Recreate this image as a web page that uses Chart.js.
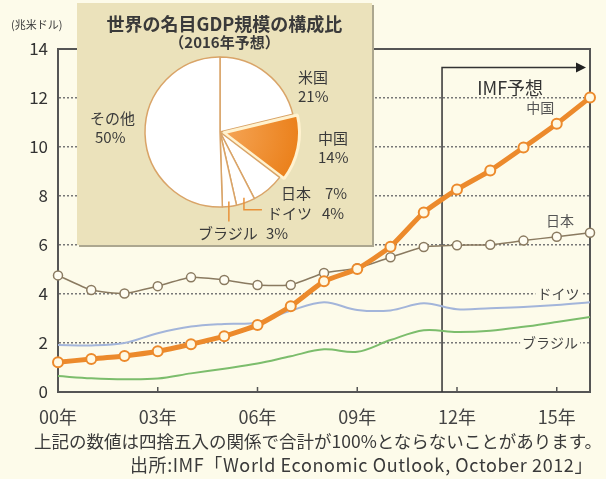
<!DOCTYPE html>
<html>
<head>
<meta charset="utf-8">
<script src="https://cdn.jsdelivr.net/npm/chart.js@4.4.0/dist/chart.umd.min.js"></script>
<style>
  body { margin: 0; background: #fdfbea; }
  #wrap { position: relative; width: 606px; height: 479px; overflow: hidden;
          font-family: "Noto Sans CJK JP", sans-serif; color: #3a3a3a; }
  #lineChart { position: absolute; left: 0; top: 0; }
  #box { position: absolute; left: 77px; top: 3px; width: 295px; height: 242px;
         background: #ebe2bb; box-shadow: 2px 2px 0 #aca78f; }
  #pieChart { position: absolute; left: 110px; top: 22px; }
  .t { position: absolute; white-space: nowrap; line-height: 1; }
</style>
</head>
<body>
<div id="wrap">
  <canvas id="lineChart" width="606" height="479"></canvas>
  <div id="box"></div>
  <canvas id="pieChart" width="220" height="220"></canvas>

  <div class="t" style="left:11px;top:19px;font-size:11px;">(兆米ドル)</div>

  <div class="t" style="left:77px;width:295px;text-align:center;top:14px;font-size:18px;font-weight:bold;">世界の名目GDP規模の構成比</div>
  <div class="t" style="left:77px;width:295px;text-align:center;top:34px;font-size:15px;font-weight:bold;">（2016年予想）</div>

  <div class="t" style="left:298px;top:69px;font-size:15px;">米国</div>
  <div class="t" style="left:298px;top:88px;font-size:15px;">21%</div>
  <div class="t" style="left:318px;top:130px;font-size:15px;">中国</div>
  <div class="t" style="left:318px;top:149px;font-size:15px;">14%</div>
  <div class="t" style="left:281px;top:185px;font-size:15px;">日本</div>
  <div class="t" style="left:325px;top:185px;font-size:15px;">7%</div>
  <div class="t" style="left:267px;top:205px;font-size:15px;">ドイツ</div>
  <div class="t" style="left:322px;top:205px;font-size:15px;">4%</div>
  <div class="t" style="left:198px;top:225px;font-size:15px;">ブラジル</div>
  <div class="t" style="left:266px;top:225px;font-size:15px;">3%</div>
  <div class="t" style="left:90px;top:110px;font-size:15px;">その他</div>
  <div class="t" style="left:95px;top:129px;font-size:15px;">50%</div>

  <div class="t" style="right:4px;top:432px;font-size:17.5px;">上記の数値は四捨五入の関係で合計が100%とならないことがあります。</div>
  <div class="t" style="right:13px;top:455px;font-size:18px;letter-spacing:0.6px;">出所:IMF「World Economic Outlook, October 2012」</div>
</div>

<script>
// 横軸（年）
const years = ['00年', '01年', '02年', '03年', '04年', '05年', '06年', '07年', '08年',
               '09年', '10年', '11年', '12年', '13年', '14年', '15年', '16年'];

// 名目GDP（兆米ドル）
const china   = [1.21, 1.35, 1.47, 1.66, 1.95, 2.28, 2.73, 3.50, 4.52, 5.02, 5.93, 7.33, 8.27, 9.04, 9.98, 10.95, 12.02];
const japan   = [4.76, 4.16, 4.02, 4.32, 4.68, 4.57, 4.37, 4.37, 4.86, 5.05, 5.50, 5.92, 5.99, 6.01, 6.18, 6.34, 6.50];
const germany = [1.92, 1.90, 2.00, 2.40, 2.67, 2.78, 2.84, 3.32, 3.66, 3.35, 3.33, 3.62, 3.38, 3.42, 3.47, 3.55, 3.66];
const brazil  = [0.65, 0.56, 0.52, 0.55, 0.76, 0.95, 1.16, 1.46, 1.74, 1.64, 2.12, 2.52, 2.45, 2.50, 2.66, 2.86, 3.06];

// 縦軸目盛り
const yTicks = [0, 2, 4, 6, 8, 10, 12, 14];

// 構成比（2016年予想）
const shareLabels = ['米国', '中国', '日本', 'ドイツ', 'ブラジル', 'その他'];
const shareValues = [21, 14, 7, 4, 3, 50];

// IMF予想の開始位置（11年と12年の間）
const forecastStart = 11.55;

const bg = '#fdfbea';
const font = '"Noto Sans CJK JP", sans-serif';

// 枠線・IMF予想の矢印・系列名
const framePlugin = {
  id: 'frame',
  beforeDatasetsDraw(chart) {
    const { ctx, chartArea: a, scales: { x, y } } = chart;
    ctx.save();
    ctx.strokeStyle = '#555';
    ctx.lineWidth = 2;
    ctx.beginPath();
    ctx.moveTo(a.left, a.top);
    ctx.lineTo(a.right, a.top);
    ctx.lineTo(a.right, a.bottom);
    ctx.stroke();

    // 目盛り（内向き）
    ctx.lineWidth = 1.5;
    ctx.beginPath();
    years.forEach((t, i) => {
      if (i % 3) return;
      const px = x.getPixelForValue(i);
      ctx.moveTo(px, a.bottom);
      ctx.lineTo(px, a.bottom - 5);
    });
    ctx.stroke();

    // IMF予想
    const fx = x.getPixelForValue(forecastStart);
    const fy = y.getPixelForValue(13.25);
    ctx.strokeStyle = '#333';
    ctx.lineWidth = 1.5;
    ctx.beginPath();
    ctx.moveTo(fx, a.bottom);
    ctx.lineTo(fx, fy);
    ctx.lineTo(a.right - 12, fy);
    ctx.stroke();
    ctx.fillStyle = '#222';
    ctx.beginPath();
    ctx.moveTo(a.right - 4, fy);
    ctx.lineTo(a.right - 14, fy - 5);
    ctx.lineTo(a.right - 14, fy + 5);
    ctx.closePath();
    ctx.fill();

    ctx.fillStyle = '#333';
    ctx.font = '18px ' + font;
    ctx.textAlign = 'center';
    ctx.textBaseline = 'middle';
    ctx.fillText('IMF予想', x.getPixelForValue(13.6), y.getPixelForValue(12.4));

    // グリッド上の系列名
    ctx.font = '14px ' + font;
    [['ドイツ', 15.05, 4], ['ブラジル', 14.8, 2]].forEach(([txt, xi, yv]) => {
      const px = x.getPixelForValue(xi), py = y.getPixelForValue(yv);
      const w = ctx.measureText(txt).width;
      ctx.fillStyle = bg;
      ctx.fillRect(px - w / 2 - 2, py - 8, w + 4, 16);
      ctx.fillStyle = '#444';
      ctx.fillText(txt, px, py);
    });
    ctx.restore();
  },
  afterDatasetsDraw(chart) {
    const { ctx, scales: { x, y } } = chart;
    ctx.save();
    ctx.font = '14px ' + font;
    ctx.textAlign = 'center';
    ctx.textBaseline = 'middle';
    ctx.fillStyle = '#555';
    ctx.fillText('中国', x.getPixelForValue(14.5), y.getPixelForValue(11.6));
    ctx.fillText('日本', x.getPixelForValue(15.1), y.getPixelForValue(7.0));
    ctx.restore();
  }
};

new Chart(document.getElementById('lineChart'), {
  type: 'line',
  data: {
    labels: years,
    datasets: [
      {
        label: '中国', data: china, borderColor: '#ec8a2c', borderWidth: 5,
        pointRadius: 5, pointBorderWidth: 2, pointBackgroundColor: '#fff9e3',
        pointBorderColor: '#ec8a2c', tension: 0.15
      },
      {
        label: '日本', data: japan, borderColor: '#8a7a60', borderWidth: 1.5,
        pointRadius: 4.5, pointBorderWidth: 1.5, pointBackgroundColor: '#fffdf2',
        pointBorderColor: '#8a7a60', tension: 0.15
      },
      {
        label: 'ドイツ', data: germany, borderColor: '#a3b5da', borderWidth: 2,
        pointRadius: 0, tension: 0.35
      },
      {
        label: 'ブラジル', data: brazil, borderColor: '#7cbd6c', borderWidth: 2,
        pointRadius: 0, tension: 0.35
      }
    ]
  },
  options: {
    responsive: false,
    animation: false,
    layout: { padding: { top: 49, right: 16, left: 0, bottom: 0 } },
    plugins: { legend: { display: false }, tooltip: { enabled: false } },
    scales: {
      x: {
        offset: false,
        grid: { display: false },
        border: { display: true, color: '#555', width: 2 },
        ticks: {
          autoSkip: false, maxRotation: 0, padding: 6,
          color: '#444', font: { family: font, size: 18 },
          callback: (v, i) => (i % 3 === 0 ? years[i] : '')
        },
        afterFit(scale) { scale.height = 87; }
      },
      y: {
        min: 0, max: 14,
        afterBuildTicks(scale) { scale.ticks = yTicks.map(v => ({ value: v })); },
        grid: {
          drawTicks: false,
          color: c => (c.tick.value === 0 || c.tick.value === 14 ? 'rgba(0,0,0,0)' : '#777777'),
          lineWidth: 1.5
        },
        border: { display: true, color: '#555', width: 2, dash: [2, 2] },
        ticks: { padding: 10, color: '#333', font: { family: font, size: 17 } },
        afterFit(scale) { scale.width = 58; }
      }
    }
  },
  plugins: [framePlugin]
});

// 円グラフの引き出し線
const leaderPlugin = {
  id: 'leader',
  afterDraw(chart) {
    const { ctx } = chart;
    const arcs = chart.getDatasetMeta(0).data;
    ctx.save();
    ctx.strokeStyle = '#e8923a';
    ctx.lineWidth = 1.5;
    [[3, 12, 18], [4, 20, 0]].forEach(([i, down, right]) => {
      const a = arcs[i];
      const mid = (a.startAngle + a.endAngle) / 2;
      const r = a.outerRadius - 5;
      const px = a.x + Math.cos(mid) * r, py = a.y + Math.sin(mid) * r;
      ctx.beginPath();
      ctx.moveTo(px, py);
      ctx.lineTo(px, py + down);
      if (right) ctx.lineTo(px + right, py + down);
      ctx.stroke();
    });
    ctx.restore();
  }
};

new Chart(document.getElementById('pieChart'), {
  type: 'pie',
  data: {
    labels: shareLabels,
    datasets: [{
      data: shareValues,
      backgroundColor(c) {
        if (c.dataIndex !== 1) return '#ffffff';
        const a = c.chart.chartArea;
        if (!a) return '#ec8a2c';
        const cx = (a.left + a.right) / 2, cy = (a.top + a.bottom) / 2;
        const g = c.chart.ctx.createRadialGradient(cx, cy, 0, cx, cy, 95);
        g.addColorStop(0, '#f5a556');
        g.addColorStop(1, '#e8770c');
        return g;
      },
      borderColor: c => (c.dataIndex === 1 ? '#fff2cf' : '#d9a468'),
      borderWidth: c => (c.dataIndex === 1 ? 3 : 1.5),
      offset: c => (c.dataIndex === 1 ? 15 : 0),
      hoverOffset: 0
    }]
  },
  options: {
    responsive: false,
    animation: false,
    layout: { padding: 26 },
    plugins: { legend: { display: false }, tooltip: { enabled: false } }
  },
  plugins: [leaderPlugin]
});
</script>
</body>
</html>
